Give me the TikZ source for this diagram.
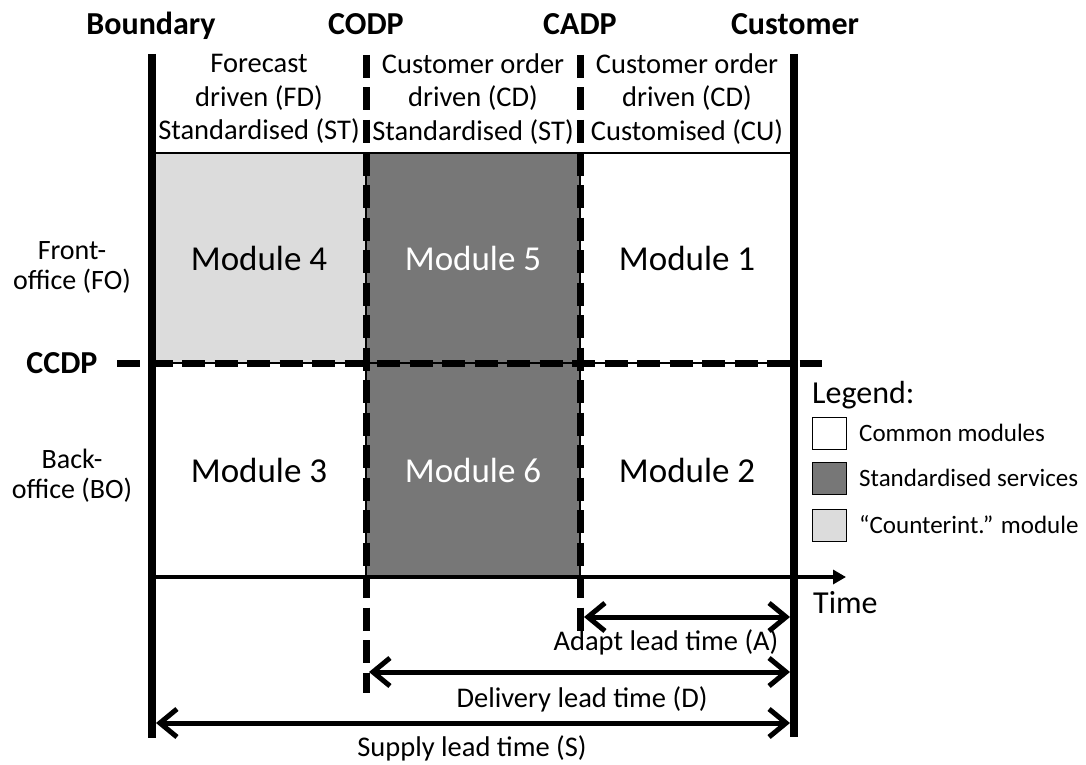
\documentclass[tikz,border=0pt]{standalone}
\usepackage{fontspec}
\setmainfont{Carlito}
\usetikzlibrary{arrows.meta}
\definecolor{lightg}{HTML}{DCDCDC}
\definecolor{darkg}{HTML}{777777}
\begin{document}
\begin{tikzpicture}[x=1pt,y=-1pt,
  cell/.style={draw=black, line width=1.2pt, minimum width=214pt, inner sep=0pt, font=\fontsize{35}{42}\selectfont},
  hdr/.style={align=center, font=\fontsize{28.5}{33.5}\selectfont, inner sep=0pt},
  side/.style={align=center, font=\fontsize{28}{30}\selectfont, inner sep=0pt},
  title/.style={font=\fontsize{32}{38}\selectfont\bfseries, inner sep=0pt, anchor=base},
  solidline/.style={line width=8pt},
  dashline/.style={line width=7pt, dash pattern=on 23pt off 9.5pt},
  lead/.style={line width=5pt, {Straight Barb[length=17pt,width=28pt]}-{Straight Barb[length=17pt,width=28pt]}},
  leadlabel/.style={font=\fontsize{28.5}{33}\selectfont, inner sep=0pt, anchor=base},
  legbox/.style={draw=black, line width=1pt, minimum width=34pt, minimum height=32pt, inner sep=0pt},
  legtext/.style={font=\fontsize{25}{30}\selectfont, inner sep=0pt, anchor=west}
]
\useasboundingbox (0,0) rectangle (1086,765);

% cells
\node[cell, fill=lightg, minimum height=210pt] (m4) at (259,258) {Module 4};
\node[cell, fill=darkg, text=white, minimum height=210pt] (m5) at (473,258) {Module 5};
\node[cell, fill=white, minimum height=210pt] (m1) at (687,258) {Module 1};
\node[cell, fill=white, minimum height=214pt] (m3) at (259,470) {Module 3};
\node[cell, fill=darkg, text=white, minimum height=214pt] (m6) at (473,470) {Module 6};
\node[cell, fill=white, minimum height=214pt] (m2) at (687,470) {Module 2};

% header texts
\node[hdr] (h1) at (259,99) {Forecast\\driven (FD)\\Standardised (ST)};
\node[hdr] (h2) at (473,99) {Customer order\\driven (CD)\\Standardised (ST)};
\node[hdr] (h3) at (687,99) {Customer order\\driven (CD)\\Customised (CU)};

% side labels
\node[side] (fo) at (72,267) {Front-\\office (FO)};
\node[side] (bo) at (72,476) {Back-\\office (BO)};
\node[title, anchor=center] (ccdp) at (62,363) {CCDP};

% titles
\node[title] (tb) at (151,35) {Boundary};
\node[title] (tcodp) at (366,35) {CODP};
\node[title] (tcadp) at (580,35) {CADP};
\node[title] (tcus) at (795,35) {Customer};

% line coordinates
\coordinate (bndtop) at (152,54);
\coordinate (bndbot) at (152,738);
\coordinate (custop) at (794,54);
\coordinate (cusbot) at (794,737);
\coordinate (codptop) at (366,55);
\coordinate (codpbot) at (366,693);
\coordinate (cadptop) at (580,55);
\coordinate (cadpbot) at (580,631);
\coordinate (ccdpl) at (117,363);
\coordinate (ccdpr) at (822,363);
\coordinate (timel) at (152,577);
\coordinate (timer) at (846,577);

% dashed lines
\draw[dashline] (ccdpl) -- (ccdpr);
\draw[dashline] (codptop) -- (codpbot);
\draw[dashline] (cadptop) -- (cadpbot);

% time axis
\draw[line width=4pt, -{Triangle[length=13pt,width=14pt]}] (timel) -- (timer);
\node[font=\fontsize{32}{38}\selectfont, inner sep=0pt, anchor=base west] (time) at (813,613) {Time};

% solid boundary lines
\draw[solidline] (bndtop) -- (bndbot);
\draw[solidline] (custop) -- (cusbot);

% lead time arrows
\coordinate (al) at (584,617);
\coordinate (ar) at (790,617);
\coordinate (dl) at (369,672);
\coordinate (dr) at (790,672);
\coordinate (sl) at (156,723);
\coordinate (sr) at (790,723);
\draw[lead] (al) -- (ar);
\draw[lead] (dl) -- (dr);
\draw[lead] (sl) -- (sr);
\node[leadlabel] (la) at (666,650) {Adapt lead time (A)};
\node[leadlabel] (ld) at (582,707) {Delivery lead time (D)};
\node[leadlabel] (ls) at (472,756) {Supply lead time (S)};

% legend
\node[font=\fontsize{32}{38}\selectfont, inner sep=0pt, anchor=base west] (leg) at (812,403) {Legend:};
\node[legbox, fill=white] (lb1) at (829,433) {};
\node[legbox, fill=darkg] (lb2) at (829,478) {};
\node[legbox, fill=lightg] (lb3) at (829,525) {};
\node[legtext] (lt1) at (859,433) {Common modules};
\node[legtext] (lt2) at (859,478) {Standardised services};
\node[legtext] (lt3) at (859,525) {“Counterint.” module};
\end{tikzpicture}
\end{document}
